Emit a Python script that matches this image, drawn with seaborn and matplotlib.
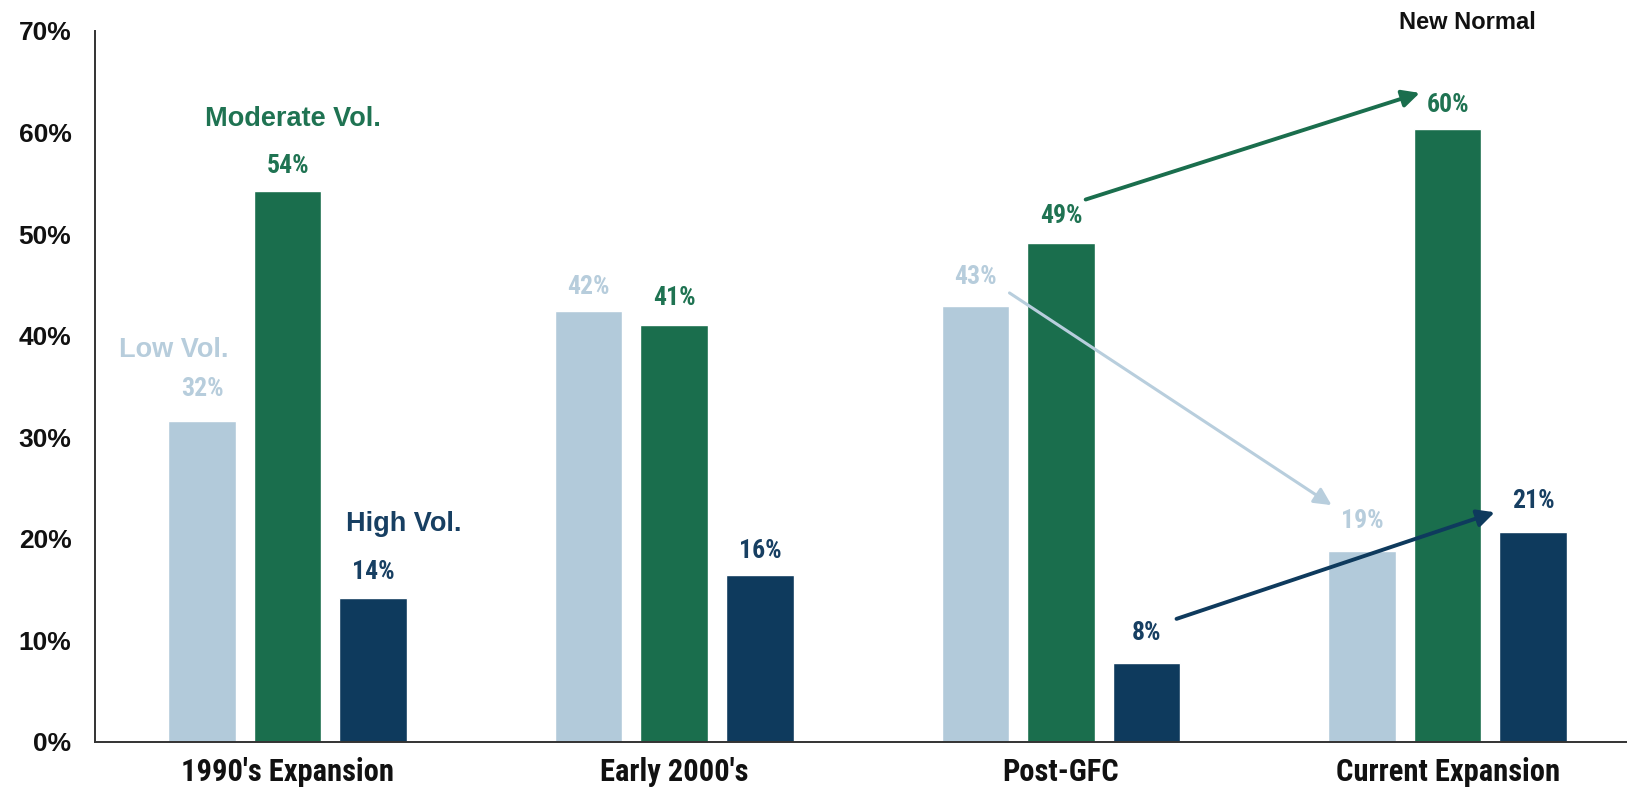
import pandas as pd
import matplotlib
matplotlib.use("Agg")
import matplotlib.pyplot as plt
import seaborn as sns

# data
periods = ["1990's Expansion", "Early 2000's", "Post-GFC", "Current Expansion"]
series = ["Low Vol.", "Moderate Vol.", "High Vol."]
low_vol = [31.6, 42.4, 42.9, 18.8]
moderate_vol = [54.2, 41.0, 49.1, 60.3]
high_vol = [14.2, 16.4, 7.8, 20.7]
low_labels = ["32%", "42%", "43%", "19%"]
moderate_labels = ["54%", "41%", "49%", "60%"]
high_labels = ["14%", "16%", "8%", "21%"]
label_levels = {
    "Low Vol.": [32, 42, 43, 19],
    "Moderate Vol.": [54, 41, 49, 60],
    "High Vol.": [14, 16, 8, 21],
}
y_ticks = [0, 10, 20, 30, 40, 50, 60, 70]

colors = {"Low Vol.": "#B2CADA", "Moderate Vol.": "#1A6E4D", "High Vol.": "#0E3A5D"}
text_colors = {"Low Vol.": "#B7CDDC", "Moderate Vol.": "#1F7352", "High Vol.": "#173F62"}

df = pd.DataFrame({
    "period": periods * 3,
    "vol": [s for s in series for _ in periods],
    "value": low_vol + moderate_vol + high_vol,
})

sns.set_style("white")
plt.rcParams["font.family"] = ["Liberation Sans", "DejaVu Sans"]
narrow = ["Roboto Condensed", "DejaVu Sans"]

fig, ax = plt.subplots(figsize=(16.27, 7.90), dpi=100)
fig.subplots_adjust(left=0.0584, right=1.0, bottom=0.0611, top=0.9608)

sns.barplot(data=df, x="period", y="value", hue="vol", hue_order=series,
            palette=colors, width=0.664, gap=0.21, saturation=1,
            legend=False, ax=ax)

ax.set_xlim(-0.498, 3.464)
ax.set_ylim(0, 70)
ax.set_yticks(y_ticks)
ax.set_yticklabels([f"{t}%" for t in y_ticks], fontsize=19, fontweight="bold",
                   color="#111111")
ax.set_xlabel("")
ax.set_ylabel("")
ax.tick_params(axis="y", length=0, pad=17)
ax.tick_params(axis="x", length=0, pad=11)
for lab in ax.get_xticklabels():
    lab.set_family(narrow)
    lab.set_fontsize(22)
    lab.set_fontweight("bold")
    lab.set_color("#111111")

sns.despine(ax=ax)
for side in ["left", "bottom"]:
    ax.spines[side].set_color("#333333")
    ax.spines[side].set_linewidth(1.4)

# value labels above each bar
offsets = {"Low Vol.": -0.2213, "Moderate Vol.": 0.0, "High Vol.": 0.2213}
all_labels = {"Low Vol.": low_labels, "Moderate Vol.": moderate_labels, "High Vol.": high_labels}
for s in series:
    for i, (lab, lev) in enumerate(zip(all_labels[s], label_levels[s])):
        ax.annotate(lab, (i + offsets[s], lev), xytext=(0, 20), textcoords="offset points",
                    ha="center", va="center", fontsize=18.5, fontweight="bold",
                    color=text_colors[s], family=narrow)

# series names in the first group
ax.text(-0.294, 38.6, "Low Vol.", ha="center", va="center", fontsize=19.5,
        fontweight="bold", color=text_colors["Low Vol."])
ax.text(0.015, 61.3, "Moderate Vol.", ha="center", va="center", fontsize=19.5,
        fontweight="bold", color=text_colors["Moderate Vol."])
ax.text(0.301, 21.4, "High Vol.", ha="center", va="center", fontsize=19.5,
        fontweight="bold", color=text_colors["High Vol."])

ax.text(3.05, 70.8, "New Normal", ha="center", va="center", fontsize=17,
        fontweight="bold", color="#111111")

# arrows from Post-GFC to the current expansion
arrows = [
    ((2.064, 53.4), (2.928, 63.9), colors["Moderate Vol."], 2.8),
    ((1.867, 44.2), (2.700, 23.3), "#B8CEDD", 2.2),
    ((2.299, 12.1), (3.122, 22.6), colors["High Vol."], 2.8),
]
for start, end, c, w in arrows:
    ax.annotate("", xy=end, xytext=start,
                arrowprops=dict(arrowstyle="-|>", color=c, lw=w,
                                mutation_scale=26, shrinkA=0, shrinkB=0))

plt.savefig("out.png", dpi=100)
